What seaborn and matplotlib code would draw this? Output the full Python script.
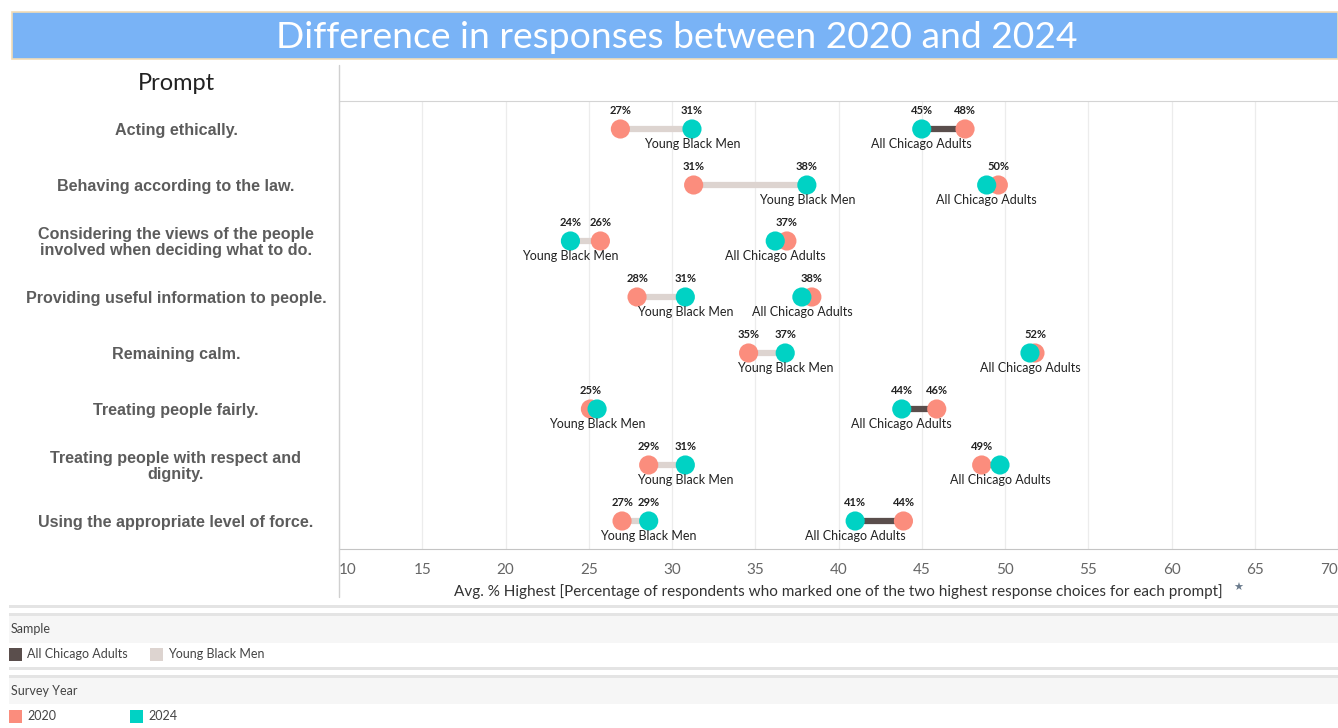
import matplotlib
matplotlib.use("Agg")
import matplotlib.pyplot as plt
import matplotlib.transforms as mtransforms
from matplotlib.patches import Rectangle
import pandas as pd
import seaborn as sns

# data
prompts = [
    "Acting ethically.",
    "Behaving according to the law.",
    "Considering the views of the people\ninvolved when deciding what to do.",
    "Providing useful information to people.",
    "Remaining calm.",
    "Treating people fairly.",
    "Treating people with respect and\ndignity.",
    "Using the appropriate level of force.",
]
ybm_2020 = [26.9, 31.3, 25.7, 27.9, 34.6, 25.1, 28.6, 27.0]
ybm_2024 = [31.2, 38.1, 23.9, 30.8, 36.8, 25.5, 30.8, 28.6]
aca_2020 = [47.6, 49.6, 36.9, 38.4, 51.8, 45.9, 48.6, 43.9]
aca_2024 = [45.0, 48.9, 36.2, 37.8, 51.5, 43.8, 49.7, 41.0]
samples = ["All Chicago Adults", "Young Black Men"]
years = ["2020", "2024"]
x_ticks = [10, 15, 20, 25, 30, 35, 40, 45, 50, 55, 60, 65, 70]

year_colors = {"2020": "#fb8d7d", "2024": "#00d2c4"}
sample_colors = {"All Chicago Adults": "#5a4e4c", "Young Black Men": "#ddd4d0"}

rows = []
for i, p in enumerate(prompts):
    rows.append((i, p, "Young Black Men", "2020", ybm_2020[i]))
    rows.append((i, p, "Young Black Men", "2024", ybm_2024[i]))
    rows.append((i, p, "All Chicago Adults", "2020", aca_2020[i]))
    rows.append((i, p, "All Chicago Adults", "2024", aca_2024[i]))
df = pd.DataFrame(rows, columns=["row", "prompt", "sample", "year", "value"])

W, H = 1338, 728
fig = plt.figure(figsize=(W / 100, H / 100), dpi=100)
fig.patch.set_facecolor("white")

def fx(px):
    return px / W

def fy(py):
    return 1 - py / H

# title banner
fig.patches.append(Rectangle((fx(12), fy(59)), 1 - fx(12), (59 - 12) / H,
                             transform=fig.transFigure, facecolor="#79b3f6",
                             edgecolor="#f2dcb6", lw=1.2, zorder=0))
fig.text(fx(677), fy(37), "Difference in responses between 2020 and 2024",
         ha="center", va="center", color="white", fontsize=26.8, family="Lato")

fig.text(fx(176), fy(83), "Prompt", ha="center", va="center", fontsize=17,
         color="#222222", family="Lato")

ax = fig.add_axes([fx(339), fy(549), 1 - fx(339), 448 / H])
sns.set_style("white")

# connecting bars
for s in samples:
    sub = df[df["sample"] == s]
    for r, g in sub.groupby("row"):
        ax.plot(g["value"], [r, r], color=sample_colors[s], lw=4.5,
                solid_capstyle="butt", zorder=2)

sns.scatterplot(data=df, x="value", y="row", hue="year", palette=year_colors,
                s=190, edgecolor="none", legend=False, ax=ax, zorder=3)

# labels
for s in samples:
    sub = df[df["sample"] == s]
    for r, g in sub.groupby("row"):
        v20 = g[g["year"] == "2020"]["value"].iloc[0]
        v24 = g[g["year"] == "2024"]["value"].iloc[0]
        shown = [v20] if abs(v20 - v24) < 1.2 else [v20, v24]
        for v in shown:
            ax.annotate(f"{round(v):d}%", (v, r), xytext=(0, 9.5),
                        textcoords="offset points", ha="center", va="bottom",
                        fontsize=8, fontweight="bold", color="#222222",
                        family="Lato")
        ax.annotate(s, (v24, r), xytext=(0, -6.5), textcoords="offset points",
                    ha="center", va="top", fontsize=9, color="#222222",
                    family="Lato")

ax.set_xlim(10, 70)
ax.set_ylim(len(prompts) - 0.5, -0.5)
ax.set_xticks(x_ticks)
ax.set_yticks([])
ax.set_ylabel("")
ax.set_xlabel("Avg. % Highest [Percentage of respondents who marked one of the two highest response choices for each prompt]",
              fontsize=11, color="#333333", labelpad=5, family="Lato")
ax.tick_params(axis="x", length=0, labelsize=11, labelcolor="#666666", pad=10)
for lbl in ax.get_xticklabels():
    lbl.set_family("Lato")
tl = ax.get_xticklabels()
tl[0].set_ha("left")
tl[-1].set_ha("right")
ax.grid(axis="x", color="#ececec", lw=0.9)
ax.set_axisbelow(True)
for sp in ["left", "right"]:
    ax.spines[sp].set_visible(False)
ax.spines["top"].set_color("#d4d4d4")
ax.spines["bottom"].set_color("#c4c4c4")

# pin glyph after the axis title
fig.text(fx(1238), fy(588), "\u2605", ha="center", va="center", fontsize=8,
         color="#6a7a8c")

# row labels
trans = mtransforms.blended_transform_factory(fig.transFigure, ax.transData)
for i, p in enumerate(prompts):
    ax.text(fx(176), i + 0.03, p, transform=trans, ha="center", va="center",
            fontsize=11.6, fontweight="bold", color="#5c5c5c",
            family="Liberation Sans", linespacing=1.1, clip_on=False)

# vertical divider between row header and plot
fig.lines.append(plt.Line2D([fx(339), fx(339)], [fy(65), fy(597)],
                            transform=fig.transFigure, color="#d0d0d0", lw=1))

# legend area
for y0, y1 in [(605, 608), (613, 616), (667, 670), (675, 678)]:
    fig.patches.append(Rectangle((fx(9), fy(y1)), 1 - fx(9), (y1 - y0) / H,
                                 transform=fig.transFigure, facecolor="#e4e4e4",
                                 edgecolor="none"))
for y0, y1 in [(616, 643), (678, 704)]:
    fig.patches.append(Rectangle((fx(9), fy(y1)), 1 - fx(9), (y1 - y0) / H,
                                 transform=fig.transFigure, facecolor="#f6f6f6",
                                 edgecolor="none"))

fig.text(fx(11), fy(629), "Sample", ha="left", va="center", fontsize=9,
         color="#444444", family="Lato")
fig.text(fx(11), fy(691), "Survey Year", ha="left", va="center", fontsize=9,
         color="#444444", family="Lato")

legend_items = [
    (9, 654, sample_colors["All Chicago Adults"], samples[0]),
    (150, 654, sample_colors["Young Black Men"], samples[1]),
    (9, 716, year_colors["2020"], years[0]),
    (130, 716, year_colors["2024"], years[1]),
]
for x0, yc, col, txt in legend_items:
    fig.patches.append(Rectangle((fx(x0), fy(yc + 7)), 13 / W, 13 / H,
                                 transform=fig.transFigure, facecolor=col,
                                 edgecolor="none"))
    fig.text(fx(x0 + 18), fy(yc), txt, ha="left", va="center", fontsize=9,
             color="#444444", family="Lato")

fig.savefig("out.png", dpi=100)
